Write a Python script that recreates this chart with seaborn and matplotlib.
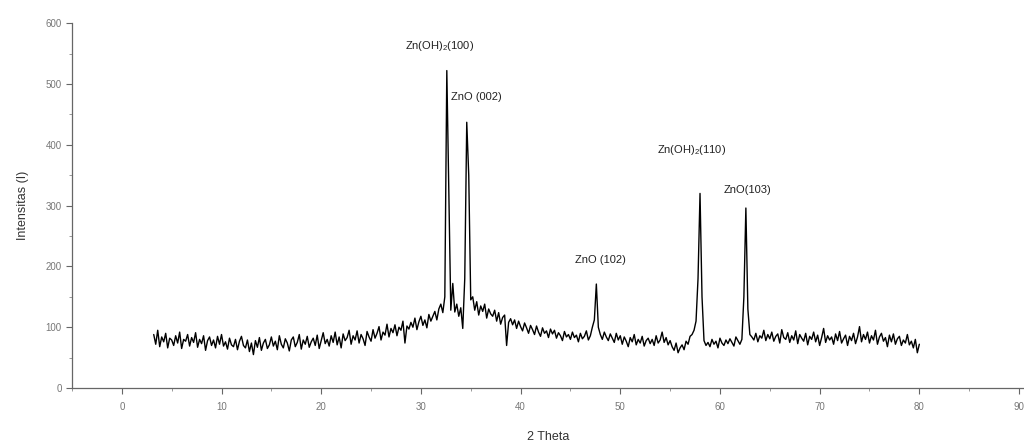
import numpy as np
import pandas as pd
import matplotlib
matplotlib.use("Agg")
import matplotlib.pyplot as plt
from matplotlib.ticker import MultipleLocator
import seaborn as sns

# 2-theta sampling: start and step of the scan (degrees)
theta_start = 3.2
theta_step = 0.2

# Intensity, one value per step (3.2 .. 80.0)
intensity = [
    88, 72, 95, 68, 84, 76, 90, 66, 82, 79,
    70, 86, 74, 92, 65, 80, 77, 88, 69, 83,
    75, 91, 67, 80, 73, 86, 62, 78, 84, 70,
    79, 66, 85, 72, 88, 69, 76, 64, 82, 71,
    68, 80, 63, 77, 85, 70, 66, 79, 60, 74,
    55, 78, 67, 83, 62, 74, 80, 65, 71, 84,
    69, 77, 63, 86, 72, 66, 81, 74, 61, 79,
    84, 68, 75, 88, 64, 79, 72, 85, 67, 76,
    82, 70, 87, 65, 78, 91, 73, 80, 69, 86,
    75, 92, 71, 84, 66, 89, 78, 83, 95, 72,
    86, 79, 94, 74, 88, 81, 70, 93, 84, 77,
    96, 82, 90, 101, 79, 92, 87, 105, 84, 98,
    91, 104, 86, 100, 95, 110, 74, 102, 97, 108,
    100, 115, 96, 109, 118, 103, 112, 99, 121, 110,
    118, 126, 112, 130, 138, 124, 150, 522, 330, 128,
    172, 125, 138, 118, 132, 98, 180, 437, 350, 145,
    150, 128, 142, 120, 135, 126, 138, 115, 130, 122,
    118, 128, 110, 124, 105, 116, 120, 70, 108, 114,
    104, 112, 98, 110, 101, 94, 107, 99, 90, 103,
    96, 88, 102, 92, 85, 99, 90, 94, 83, 97,
    89, 95, 82, 91, 86, 78, 93, 84, 88, 80,
    92, 83, 87, 76, 90, 81, 85, 94, 79, 86,
    100, 112, 171, 100, 88, 80, 92, 84, 78, 89,
    82, 75, 90, 79, 86, 72, 84, 77, 68, 83,
    76, 88, 71, 80, 74, 85, 69, 78, 82, 73,
    80, 70, 86, 74, 79, 92, 75, 83, 71, 78,
    68, 62, 74, 58, 66, 71, 63, 77, 72, 85,
    88, 95, 110, 180, 320, 150, 78, 70, 75, 68,
    80, 72, 77, 66, 82, 74, 70, 79, 73, 81,
    75, 69, 84, 78, 72, 80, 150, 296, 130, 88,
    84, 79, 90, 76, 86, 82, 95, 78, 88, 81,
    92, 77, 85, 89, 74, 96, 83, 80, 91, 75,
    86, 79, 94, 73, 88, 82, 77, 90, 71, 85,
    80, 92, 76, 87, 70, 83, 98, 75, 86, 79,
    84, 72, 89, 78, 93, 74, 81, 87, 70, 85,
    78, 90, 73, 84, 101, 76, 88, 80, 92, 74,
    86, 79, 95, 72, 84, 90, 77, 83, 68, 87,
    76, 89, 72, 81, 85, 70, 79, 74, 88, 71,
    77, 66, 80, 58, 72,
]

# Peak annotations
peak_labels = [r"Zn(OH)$_2$(100)", "ZnO (002)", "ZnO (102)", r"Zn(OH)$_2$(110)", "ZnO(103)"]
peak_label_x = [31.9, 33.0, 48.0, 57.2, 62.8]
peak_label_y = [562, 479, 210, 391, 326]
peak_label_ha = ["center", "left", "center", "center", "center"]

x_ticks = [0, 10, 20, 30, 40, 50, 60, 70, 80, 90]
y_ticks = [0, 100, 200, 300, 400, 500, 600]

two_theta = np.round(theta_start + theta_step * np.arange(len(intensity)), 2)
df = pd.DataFrame({"2 Theta": two_theta, "Intensitas (I)": intensity})

sns.set_style("ticks")
plt.rcParams["font.family"] = ["Liberation Sans", "DejaVu Sans"]
plt.rcParams["mathtext.fontset"] = "custom"
plt.rcParams["mathtext.rm"] = "Liberation Sans"

fig = plt.figure(figsize=(10.24, 4.45), dpi=100)
ax = fig.add_axes([0.0703, 0.128, 0.9297, 0.82])

sns.lineplot(data=df, x="2 Theta", y="Intensitas (I)", ax=ax, color="black",
             linewidth=1.0, estimator=None, sort=False)

for lab, lx, ly, ha in zip(peak_labels, peak_label_x, peak_label_y, peak_label_ha):
    ax.text(lx, ly, lab, ha=ha, va="center", fontsize=8, color="#222222")

ax.set_xlim(-5, 90.5)
ax.set_ylim(0, 600)
ax.set_xticks(x_ticks)
ax.set_yticks(y_ticks)
ax.xaxis.set_minor_locator(MultipleLocator(5))
ax.yaxis.set_minor_locator(MultipleLocator(50))
ax.tick_params(axis="both", which="major", length=4, width=0.8, colors="#666666",
               labelsize=7, labelcolor="#777777")
ax.tick_params(axis="x", which="major", pad=6)
ax.tick_params(axis="both", which="minor", length=2.5, width=0.6, colors="#888888")
for s in ["left", "bottom"]:
    ax.spines[s].set_color("#666666")
    ax.spines[s].set_linewidth(0.9)
sns.despine(ax=ax)

ax.set_xlabel("2 Theta", fontsize=9, color="#333333", labelpad=14)
ax.set_ylabel("Intensitas (I)", fontsize=9, color="#333333", labelpad=12)

fig.savefig("out.png", dpi=100)
